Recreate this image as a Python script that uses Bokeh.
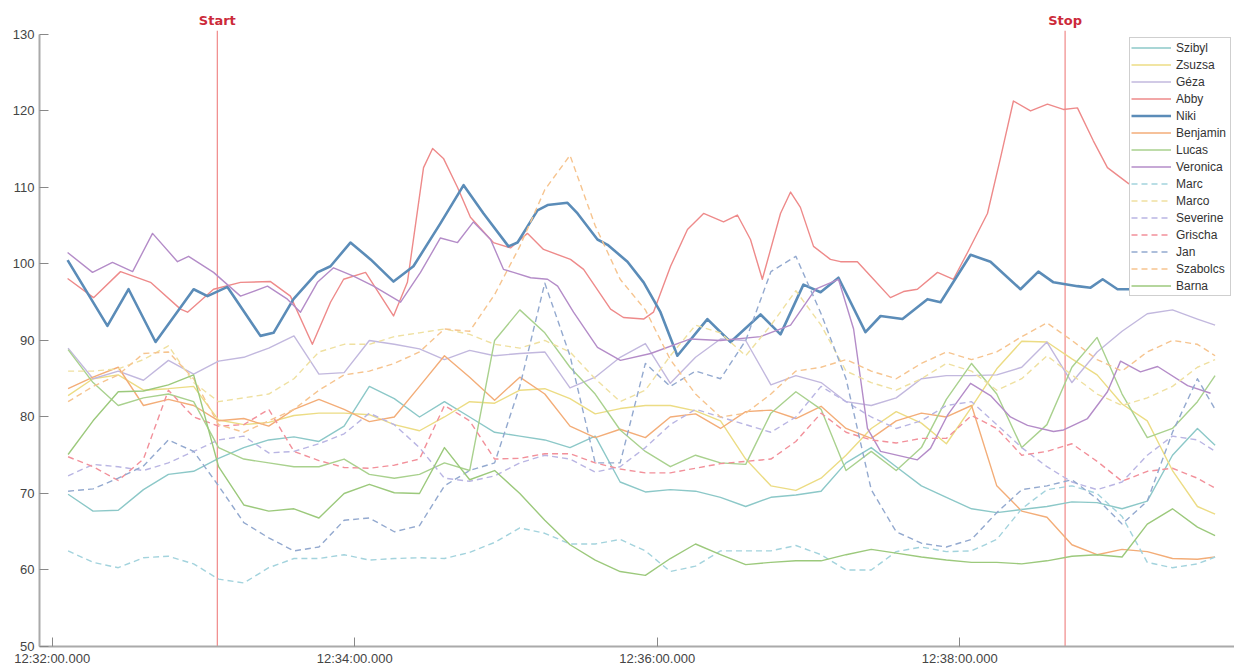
from bokeh.plotting import figure
from bokeh.models import Range1d, FixedTicker, Legend
from bokeh.core.properties import value
from bokeh.embed import file_html
from bokeh.resources import INLINE

# time in seconds after 12:32:00 (shared sampling)
seconds = [6.3, 16.2, 26.2, 36.2, 46.1, 56.1, 66.0, 76.0, 85.9, 95.9, 105.8, 115.8, 125.8, 135.7,
           145.7, 155.6, 165.6, 175.5, 185.5, 195.4, 205.4, 215.4, 225.3, 235.3, 245.2, 255.2, 265.1,
           275.1, 285.1, 295.0, 305.0, 314.9, 324.9, 334.8, 344.8, 354.7, 364.7, 374.7, 384.6, 394.6,
           404.5, 414.5, 424.4, 434.4, 444.4, 454.3, 461.3]

szibyl = [69.9, 67.7, 67.8, 70.5, 72.5, 72.9, 74.6, 76, 77, 77.4, 76.8, 78.8, 84, 82.4, 80, 82, 80, 78,
          77.5, 77, 76, 77.5, 71.5, 70.2, 70.5, 70.3, 69.5, 68.3, 69.5, 69.8, 70.3, 74, 76, 73.5, 71,
          69.5, 68, 67.5, 67.9, 68.3, 68.9, 68.8, 68, 69, 75, 78.5, 76.3]
zsuzsa = [82.8, 85, 85.5, 83.5, 83.7, 84, 79.6, 79, 79.3, 80.2, 80.5, 80.5, 80.3, 79, 78.2, 80, 82, 81.8,
          83.5, 83.7, 82.4, 80.4, 81.1, 81.5, 81.5, 80.8, 79.5, 74.5, 71, 70.4, 72, 75, 78.5, 80.7, 79.2,
          76.5, 81.3, 86.3, 89.9, 89.8, 87.6, 85.5, 81.7, 79.5, 73, 68.3, 67.3]
geza = [89, 85, 86, 84.8, 87.4, 85.6, 87.3, 87.8, 89, 90.6, 85.6, 85.8, 90, 89.5, 88.9, 87.5, 88.7, 88,
        88.3, 88.5, 83.8, 85.2, 87.8, 89.6, 84.4, 87.8, 90.2, 90, 84.2, 85.4, 84.5, 82, 81.5, 82.5, 85,
        85.4, 85.4, 85.5, 86.5, 89.8, 84.5, 88.5, 91.2, 93.5, 94, 92.8, 92]
benjamin = [83.7, 85.2, 86.5, 81.5, 82.3, 81.5, 79.5, 79.8, 78.8, 81, 82.3, 81, 79.4, 80, 84, 88, 85.2,
            82.2, 85.2, 83, 78.8, 77.3, 78.4, 77.3, 80, 80.4, 78.5, 80.7, 80.9, 79.8, 81.4, 78.5, 77.2,
            79.5, 80.5, 80, 81.5, 71, 67.7, 66.9, 63.3, 62, 62.7, 62.4, 61.5, 61.4, 61.7]
lucas = [88.8, 84.5, 81.5, 82.5, 83, 82, 76, 74.5, 74, 73.5, 73.5, 74.5, 72.5, 72, 72.5, 74, 73, 90, 94,
         91, 86.5, 83, 78.3, 75.5, 73.5, 75, 74, 73.8, 80.5, 83.3, 81, 73, 75.5, 73, 76, 82.3, 87, 83,
         76, 79, 86.5, 90.4, 83, 77.3, 78.5, 82, 85.4]
marc = [62.5, 61, 60.3, 61.6, 61.8, 60.8, 58.8, 58.3, 60.3, 61.5, 61.5, 62, 61.3, 61.5, 61.6, 61.5, 62.3,
        63.6, 65.5, 64.8, 63.4, 63.4, 64, 62.5, 59.8, 60.5, 62.5, 62.5, 62.5, 63.2, 62, 60, 60, 62.4, 63,
        62.4, 62.5, 64, 68, 70.5, 71, 70, 67, 61, 60.3, 60.8, 61.7]
marco = [86, 86, 86.3, 87.5, 89.3, 84.5, 82, 82.5, 83, 85, 88.5, 89.5, 89.5, 90.5, 91, 91.5, 90.8, 89.5,
         89, 90, 88.5, 85, 82, 83.5, 88, 92, 91, 88, 92, 96.5, 92, 86, 84.5, 83.5, 85, 87, 86, 83.5, 85,
         88, 85.5, 83, 81.5, 82.5, 84, 86.5, 87.5]
severine = [72.3, 73.8, 73.5, 73, 74, 75.5, 77, 77.5, 75.3, 75.5, 76.5, 77.8, 80.5, 79, 76, 72, 71.6,
            72.3, 74, 75, 74.5, 72.8, 73.5, 76, 79, 81, 80, 79, 78, 80, 84, 82, 80, 78.5, 79.5, 81.5, 82,
            79, 76, 73.5, 71.5, 70.5, 71.5, 75, 77.5, 77, 75.5]
grischa = [74.8, 73.5, 71.7, 74.5, 83.5, 80, 78.8, 79, 81, 75.5, 74.3, 73.4, 73.3, 73.7, 74.5, 81.5, 79.5,
           74.5, 74.6, 75.2, 75.2, 74, 73.2, 72.7, 72.7, 73.3, 73.9, 74.2, 74.5, 76.8, 80.5, 78, 77, 76.6,
           77.2, 77.2, 80.2, 78.5, 75, 75.5, 76.5, 74.2, 71.6, 72.9, 73.3, 72, 70.7]
jan = [70.3, 70.6, 72, 73.6, 77, 75.5, 71, 66.2, 64.2, 62.5, 63, 66.5, 66.8, 65, 65.8, 71, 73, 74, 84,
       97.5, 88, 74, 74, 87, 84, 86, 85, 90, 99, 101, 93.5, 85, 70.5, 65, 63.5, 63, 64, 67.5, 70.5, 71,
       71.8, 69.3, 66, 69, 78, 85, 81]
szabolcs = [82, 84, 85.5, 88.3, 88.5, 85, 79, 78, 79.5, 81, 83.5, 85.5, 86, 87, 88.5, 91.5, 91.2, 96,
            102.3, 109.7, 114.2, 105, 98, 94, 87.5, 83, 80, 80.5, 83, 86, 86.5, 87.5, 86, 85, 87, 88.5,
            87.5, 88.5, 90.5, 92.3, 90, 87.5, 86, 88.5, 90, 89.5, 88]
barna = [75.1, 79.5, 83.3, 83.4, 84.2, 85.5, 73.5, 68.5, 67.7, 68, 66.8, 70, 71.2, 70.1, 70, 76, 71.8, 73,
         70, 66.5, 63.3, 61.3, 59.8, 59.3, 61.5, 63.4, 62, 60.7, 61, 61.2, 61.2, 62, 62.7, 62.2, 61.7,
         61.3, 61, 61, 60.8, 61.2, 61.8, 62, 61.7, 66, 68, 65.6, 64.5]

# finer readings for the three most prominent series
abby_seconds = [6.1, 16.4, 27.1, 39.0, 50.9, 53.7, 64.0, 74.7, 86.6, 94.5, 103.2, 110.4, 115.6, 124.3,
                135.4, 140.9, 147.3, 150.9, 155.2, 160.8, 165.9, 175.0, 181.8, 188.5, 194.9, 205.6,
                210.8, 221.5, 226.6, 234.6, 238.5, 245.3, 252.0, 258.4, 266.3, 271.8, 277.0, 281.7,
                288.9, 292.9, 296.8, 302.0, 308.7, 312.7, 319.4, 325.8, 332.5, 337.7, 343.2, 351.2,
                357.5, 363.1, 371.0, 376.2, 381.3, 388.1, 394.8, 401.1, 406.7, 413.0, 418.6, 427.0,
                439.7, 461.4]
abby = [98.1, 95.6, 99, 97.6, 94.1, 93.7, 96.7, 97.6, 97.7, 95.8, 89.5, 95, 98, 98.9,
        93.2, 97.6, 112.6, 115.1, 113.8, 110, 106.1, 102.8, 102.1, 104, 101.9, 100.6,
        99.3, 94.1, 93, 92.8, 93.7, 99.7, 104.5, 106.6, 105.5, 106.4, 103.2, 98,
        106.6, 109.4, 107.4, 102.3, 100.6, 100.3, 100.3, 98, 95.6, 96.4, 96.7, 98.9,
        98, 101.5, 106.6, 113.9, 121.3, 120, 120.9, 120.2, 120.4, 116.1, 112.6, 110.5,
        108.5, 106]

niki_seconds = [6.1, 21.9, 30.3, 41.0, 56.1, 61.6, 69.5, 82.6, 87.8, 95.7, 105.2, 110.4, 118.3, 126.3,
                135.4, 143.3, 154.0, 163.2, 171.1, 181.0, 184.6, 192.5, 196.5, 204.4, 208.4, 216.3,
                220.3, 228.2, 234.6, 241.3, 248.0, 259.9, 269.1, 281.0, 288.9, 298.0, 304.8, 311.9,
                322.6, 328.6, 337.3, 347.2, 352.4, 364.3, 372.2, 384.1, 391.2, 397.2, 406.7, 411.9,
                416.7, 422.6, 427.0, 439.7, 461.4]
niki = [100.5, 91.9, 96.7, 89.8, 96.7, 95.8, 97, 90.6, 91, 95.4, 98.9, 99.7, 102.8, 100.6,
        97.7, 99.7, 105.3, 110.3, 106.6, 102.3, 102.8, 107, 107.7, 108, 106.6, 103.2,
        102.5, 100.3, 97.6, 93.7, 88, 92.8, 89.8, 93.4, 90.8, 97.3, 96.3, 98.2,
        91.1, 93.2, 92.8, 95.4, 95, 101.2, 100.3, 96.7, 99, 97.6, 97.1, 96.9,
        98, 96.7, 96.7, 96.3, 96]

veronica_seconds = [6.1, 16.0, 23.9, 31.9, 39.8, 49.7, 54.1, 64.0, 69.5, 74.7, 85.4, 93.3, 98.5, 105.2,
                    111.6, 119.5, 127.5, 138.2, 146.1, 154.0, 160.8, 167.1, 173.9, 179.0, 183.0,
                    189.8, 196.5, 200.5, 206.8, 216.3, 225.4, 237.4, 253.2, 265.1, 281.0, 292.9,
                    302.8, 311.9, 317.9, 323.4, 328.6, 343.2, 348.4, 355.1, 364.3, 372.2, 380.1,
                    386.9, 397.2, 401.2, 410.7, 418.6, 423.8, 431.7, 438.5, 450.4, 459.5]
veronica = [101.5, 98.9, 100.2, 99, 104, 100.3, 101, 98.9, 97.3, 95.8, 97.1, 95.4, 93.7, 97.6,
            99.5, 98.4, 97.1, 95, 98.9, 103.4, 102.8, 105.5, 103.2, 99.3, 98.9,
            98.2, 98, 97.1, 93.7, 89.1, 87.4, 88.3, 90.2, 90, 90.5, 92,
            96.7, 98, 91.5, 78.5, 75.5, 74.4, 75.9, 80.2, 84.4, 82.8, 80,
            78.9, 78.1, 78.3, 79.8, 83.3, 87.3, 85.9, 86.6, 84.1, 83.1]

names = ["Szibyl", "Zsuzsa", "Géza", "Abby", "Niki", "Benjamin", "Lucas", "Veronica",
         "Marc", "Marco", "Severine", "Grischa", "Jan", "Szabolcs", "Barna"]
series = [szibyl, zsuzsa, geza, abby, niki, benjamin, lucas, veronica,
          marc, marco, severine, grischa, jan, szabolcs, barna]
times = [seconds, seconds, seconds, abby_seconds, niki_seconds, seconds, seconds, veronica_seconds,
         seconds, seconds, seconds, seconds, seconds, seconds, seconds]
colors = ["#8cc8c8", "#ecdc84", "#c2b8de", "#ee8a8a", "#5b8cb8", "#f3ad78", "#a9d18e", "#b48cc8",
          "#a3d3dd", "#efe0a0", "#b9b5e3", "#f2909a", "#93a9cf", "#f6c48f", "#9cc97c"]
dashed = [False] * 8 + [True] * 6 + [False]

tick_seconds = [0, 120, 240, 360]
tick_labels = ["12:32:00.000", "12:34:00.000", "12:36:00.000", "12:38:00.000"]
y_ticks = [50, 60, 70, 80, 90, 100, 110, 120, 130]

event_seconds = [65.5, 401.8]
event_labels = ["Start", "Stop"]

p = figure(width=1234, height=668, output_backend="svg", toolbar_location=None,
           x_range=Range1d(-5.04, 469.0), y_range=Range1d(50, 132.87),
           min_border_left=39, min_border_right=0, min_border_top=12, min_border_bottom=21)
p.outline_line_color = None
p.grid.visible = False
p.background_fill_color = "white"
p.border_fill_color = "white"

# event markers
p.segment(x0=event_seconds, y0=[50, 50], x1=event_seconds, y1=[130.5, 130.5],
          line_color="#f08888", line_width=1.2)
p.text(x=event_seconds, y=[131.8, 131.8], text=event_labels, text_align="center",
       text_baseline="middle", text_color="#cc2a3a", text_font=value("DejaVu Sans"),
       text_font_style="bold", text_font_size="13px")

items = []
for name, ts, vals, col, dsh in zip(names, times, series, colors, dashed):
    r = p.line(ts, vals, line_color=col,
               line_width=(2.6 if name == "Niki" else 1.4),
               line_dash=("6 4" if dsh else "solid"), line_join="round")
    items.append((name, [r]))

legend = Legend(items=items, location=(1090, 350))
legend.label_text_font = "Liberation Sans"
legend.label_text_font_size = "12px"
legend.label_text_color = "#333333"
legend.glyph_width = 40
legend.glyph_height = 17
legend.label_height = 17
legend.label_width = 53
legend.spacing = 0
legend.padding = 1
legend.margin = 0
legend.label_standoff = 5
legend.border_line_color = "#a0a0a0"
legend.background_fill_color = "white"
legend.background_fill_alpha = 1
p.add_layout(legend, "center")

xa = p.xaxis[0]
xa.ticker = FixedTicker(ticks=tick_seconds)
xa.major_label_overrides = dict(zip(tick_seconds, tick_labels))
xa.major_tick_in = 9
xa.major_tick_out = 0
xa.minor_tick_line_color = None
xa.axis_line_color = "#aaaaaa"
xa.axis_line_width = 2
xa.major_tick_line_color = "#888888"
xa.major_label_standoff = 4
xa.major_label_text_font = "Liberation Sans"
xa.major_label_text_font_size = "13px"
xa.major_label_text_color = "#444444"

ya = p.yaxis[0]
ya.ticker = FixedTicker(ticks=y_ticks)
ya.bounds = (50, 130)
ya.major_tick_in = 9
ya.major_tick_out = 0
ya.minor_tick_line_color = None
ya.axis_line_color = "#aaaaaa"
ya.axis_line_width = 2
ya.major_tick_line_color = "#888888"
ya.major_label_standoff = 5
ya.major_label_text_font = "Liberation Sans"
ya.major_label_text_font_size = "13px"
ya.major_label_text_color = "#444444"

open("out.html", "w").write(file_html(p, INLINE))
